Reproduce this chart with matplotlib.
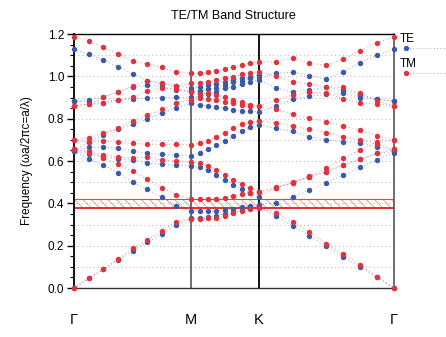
import numpy as np
import matplotlib
matplotlib.use("Agg")
import matplotlib.pyplot as plt
from matplotlib.ticker import MultipleLocator, FormatStrFormatter
from matplotlib.lines import Line2D

plt.rcParams['font.family'] = ['Liberation Sans', 'DejaVu Sans']
plt.rcParams['hatch.linewidth'] = 0.6

# path Gamma-M-K-Gamma (hexagonal lattice), 8 steps per segment
sym_labels = ['Γ', 'M', 'K', 'Γ']
seg_len = [1 / np.sqrt(3), 1 / 3, 2 / 3]
steps = 8

# band frequencies (a/lambda) at the 25 k-points: G..M | M..K | K..G
te_bands = [
    [0.0, 0.045, 0.088, 0.132, 0.175, 0.215, 0.255, 0.298, 0.330,
     0.332, 0.336, 0.342, 0.350, 0.358, 0.367, 0.376, 0.385,
     0.340, 0.294, 0.246, 0.198, 0.148, 0.098, 0.050, 0.0],
    [0.645, 0.611, 0.581, 0.545, 0.500, 0.466, 0.430, 0.387, 0.362,
     0.364, 0.364, 0.365, 0.368, 0.375, 0.384, 0.387, 0.392,
     0.403, 0.430, 0.463, 0.497, 0.534, 0.570, 0.605, 0.640],
    [0.645, 0.635, 0.622, 0.610, 0.605, 0.592, 0.584, 0.581, 0.578,
     0.570, 0.557, 0.534, 0.510, 0.487, 0.466, 0.447, 0.430,
     0.471, 0.497, 0.526, 0.549, 0.581, 0.608, 0.636, 0.645],
    [0.652, 0.664, 0.666, 0.660, 0.647, 0.636, 0.632, 0.628, 0.625,
     0.639, 0.657, 0.675, 0.694, 0.718, 0.742, 0.762, 0.770,
     0.754, 0.740, 0.715, 0.699, 0.691, 0.683, 0.668, 0.652],
    [0.652, 0.690, 0.723, 0.751, 0.773, 0.798, 0.825, 0.852, 0.872,
     0.866, 0.860, 0.855, 0.849, 0.843, 0.838, 0.835, 0.833,
     0.860, 0.891, 0.905, 0.915, 0.920, 0.900, 0.891, 0.883],
    [0.883, 0.880, 0.876, 0.888, 0.893, 0.897, 0.900, 0.901, 0.901,
     0.905, 0.915, 0.925, 0.943, 0.951, 0.962, 0.975, 0.983,
     0.946, 0.927, 0.935, 0.950, 0.935, 0.910, 0.893, 0.883],
    [0.883, 0.890, 0.901, 0.927, 0.948, 0.958, 0.950, 0.935, 0.930,
     0.932, 0.940, 0.946, 0.959, 0.971, 0.978, 0.991, 0.995,
     1.014, 1.019, 1.003, 0.987, 1.022, 1.064, 1.101, 1.127],
    [1.127, 1.105, 1.077, 1.045, 1.012, 0.980, 0.965, 0.955, 0.945,
     0.950, 0.958, 0.966, 0.975, 0.983, 0.990, 0.998, 1.006,
     1.220, 1.240, 1.260, 1.300, 1.300, 1.270, 1.240, 1.230],
]

tm_bands = [
    [0.0, 0.046, 0.088, 0.135, 0.187, 0.227, 0.271, 0.314, 0.327,
     0.327, 0.329, 0.332, 0.340, 0.353, 0.364, 0.372, 0.376,
     0.356, 0.313, 0.266, 0.208, 0.161, 0.109, 0.053, 0.0],
    [0.655, 0.639, 0.616, 0.584, 0.551, 0.514, 0.474, 0.441, 0.419,
     0.419, 0.419, 0.421, 0.426, 0.435, 0.443, 0.450, 0.455,
     0.471, 0.497, 0.526, 0.549, 0.581, 0.608, 0.636, 0.655],
    [0.655, 0.645, 0.630, 0.618, 0.616, 0.617, 0.605, 0.600, 0.597,
     0.589, 0.576, 0.557, 0.534, 0.510, 0.491, 0.471, 0.455,
     0.475, 0.500, 0.530, 0.565, 0.613, 0.652, 0.691, 0.699],
    [0.699, 0.691, 0.694, 0.688, 0.683, 0.679, 0.679, 0.679, 0.675,
     0.683, 0.696, 0.715, 0.734, 0.754, 0.773, 0.783, 0.790,
     0.781, 0.765, 0.750, 0.734, 0.715, 0.700, 0.680, 0.655],
    [0.699, 0.710, 0.731, 0.757, 0.789, 0.815, 0.844, 0.875, 0.890,
     0.896, 0.893, 0.888, 0.880, 0.872, 0.866, 0.862, 0.860,
     0.844, 0.822, 0.801, 0.786, 0.765, 0.746, 0.720, 0.699],
    [0.860, 0.869, 0.875, 0.888, 0.901, 0.931, 0.943, 0.939, 0.927,
     0.918, 0.920, 0.912, 0.904, 0.888, 0.877, 0.866, 0.860,
     0.888, 0.910, 0.925, 0.920, 0.893, 0.875, 0.869, 0.860],
    [0.860, 0.869, 0.901, 0.927, 0.954, 0.979, 0.970, 0.954, 0.967,
     0.970, 0.975, 0.983, 0.991, 0.998, 1.009, 1.017, 1.022,
     1.001, 0.975, 0.962, 0.951, 0.948, 0.920, 0.885, 0.860],
    [1.187, 1.167, 1.137, 1.104, 1.074, 1.058, 1.042, 1.022, 1.014,
     1.014, 1.019, 1.025, 1.035, 1.045, 1.053, 1.062, 1.069,
     1.068, 1.088, 1.061, 1.053, 1.080, 1.121, 1.159, 1.187],
]

# photonic band gap (TM)
gap_lo, gap_hi = 0.378, 0.419

te_color = '#3a5aa8'
tm_color = '#e2323c'

# k-distance along the path
sym_x = np.concatenate([[0], np.cumsum(seg_len)])
kx = [np.linspace(sym_x[0], sym_x[1], steps + 1)]
for i in range(1, 3):
    kx.append(np.linspace(sym_x[i], sym_x[i + 1], steps + 1)[1:])
kx = np.concatenate(kx)

fig = plt.figure(figsize=(4.46, 3.37), dpi=100)
ax = fig.add_axes([0.1659, 0.1454, 0.7175, 0.7537])

ymax = 1.2
for yv in np.arange(0.1, 1.2, 0.1):
    ax.axhline(yv, color='#b4b4b4', lw=0.7, ls=(0, (1, 3)), zorder=0)

ax.axhspan(gap_lo, gap_hi, facecolor='none', edgecolor='#f09090',
           hatch='\\\\\\\\', lw=0, zorder=1)
ax.axhline(gap_hi, color='#e04848', lw=0.8, zorder=2)
ax.axhline(gap_lo, color='#dd2020', lw=1.3, zorder=2)


def draw_bands(bands, color, z):
    for b in bands:
        vals = np.ma.masked_greater(np.array(b), ymax + 0.002)
        ax.plot(kx, vals, color=color, lw=0.7, ls=(0, (1, 2.5)),
                alpha=0.55, zorder=z, clip_on=False)
        ax.plot(kx, vals, ls='none', marker='o', ms=3.9, mew=0,
                color=color, zorder=z + 1, clip_on=False)


draw_bands(te_bands, te_color, 3)
draw_bands(tm_bands, tm_color, 5)

ax.axvline(sym_x[1], color='#555555', lw=1.2, zorder=2)
ax.axvline(sym_x[2], color='black', lw=1.3, zorder=2)

ax.set_xlim(sym_x[0], sym_x[-1])
ax.set_ylim(0, ymax)
ax.set_xticks(sym_x)
ax.set_xticklabels(sym_labels)
ax.tick_params(axis='x', length=0, pad=18, labelsize=10.5)

ax.yaxis.set_major_locator(MultipleLocator(0.2))
ax.yaxis.set_minor_locator(MultipleLocator(0.05))
ax.yaxis.set_major_formatter(FormatStrFormatter('%.1f'))
ax.tick_params(axis='y', which='major', length=5, width=1.0, labelsize=8.5, pad=2)
ax.tick_params(axis='y', which='minor', length=3, width=0.8)

for side, c, w in [('left', 'black', 1.3), ('right', '#555555', 1.2),
                   ('top', 'black', 1.0), ('bottom', '#333333', 1.0)]:
    ax.spines[side].set_color(c)
    ax.spines[side].set_linewidth(w)

ax.set_ylabel('Frequency (ωa/2πc=a/λ)', fontsize=8.5)
ax.yaxis.set_label_coords(-0.128, 0.5)

fig.text(0.5225, 1 - 16 / 337, 'TE/TM Band Structure', ha='center',
         va='center', fontsize=9)

# legend to the right of the plot
for label, color, ty, my in [('TE', te_color, 0.980, 0.945),
                             ('TM', tm_color, 0.882, 0.846)]:
    ax.text(1.019, ty, label, transform=ax.transAxes, fontsize=8.5,
            ha='left', va='center', clip_on=False)
    ax.add_line(Line2D([1.037, 1.17], [my, my], transform=ax.transAxes,
                       color=color, lw=0.7, ls=(0, (1, 2.5)), alpha=0.55,
                       clip_on=False))
    ax.add_line(Line2D([1.037], [my], transform=ax.transAxes, color=color,
                       marker='o', ms=3.9, mew=0, clip_on=False))

fig.savefig('out.png', dpi=100)
